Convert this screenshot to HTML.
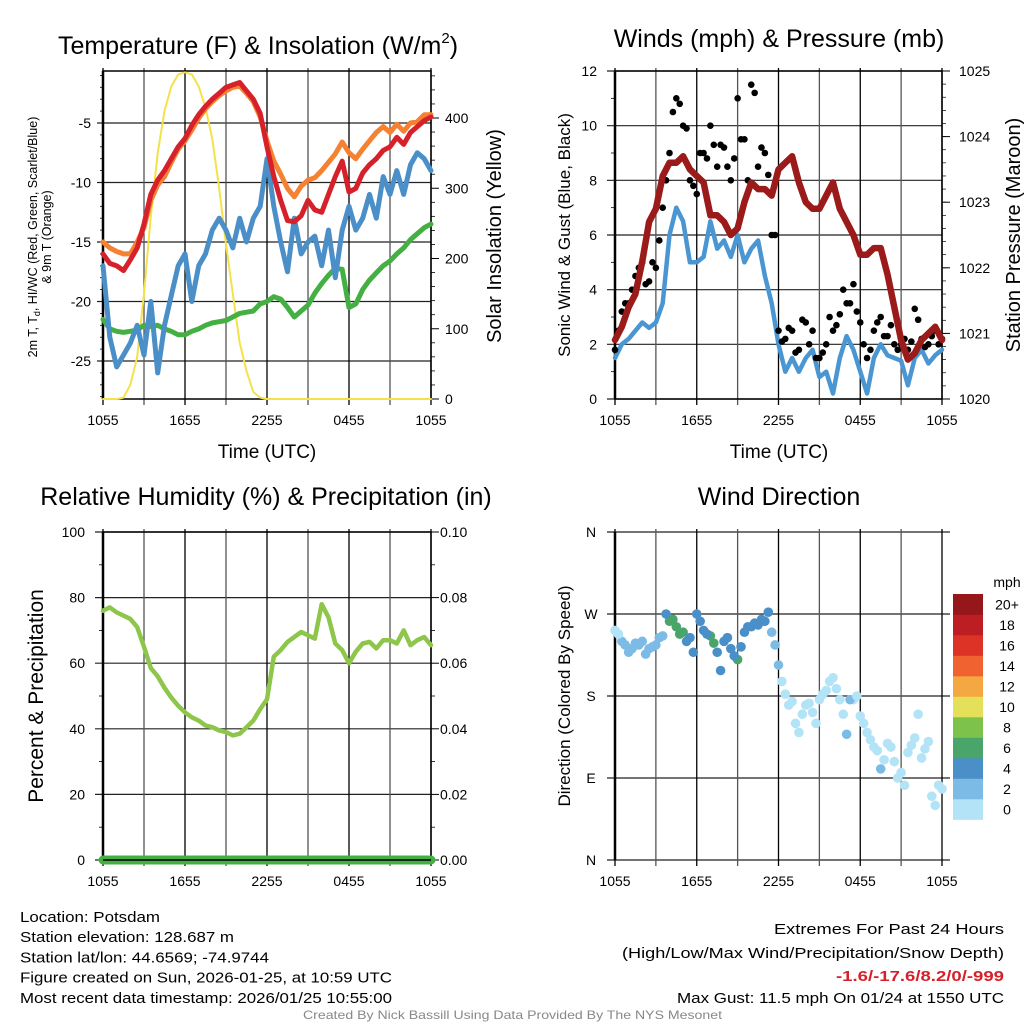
<!DOCTYPE html>
<html><head><meta charset="utf-8">
<style>
html,body{margin:0;padding:0;background:#fff;}
svg{display:block;font-family:"Liberation Sans",sans-serif;}
</style></head>
<body>
<svg id="c" width="1024" height="1024" viewBox="0 0 1024 1024" xmlns="http://www.w3.org/2000/svg"></svg>
<script>
// ---------- DATA ----------
const hours = []; for (let i = 0; i <= 48; i++) hours.push(i * 0.5);
const hoursB = []; for (let i = 0; i < 48; i++) hoursB.push(i * 0.5 + 0.25);
const timeTickLabels = ["1055","1655","2255","0455","1055"];
const tempTicks = [-5,-10,-15,-20,-25];
const solarTicks = [0,100,200,300,400];
const windTicks = [0,2,4,6,8,10,12];
const presTicks = [1020,1021,1022,1023,1024,1025];
const rhTicks = [0,20,40,60,80,100];
const precipTicks = ["0.00","0.02","0.04","0.06","0.08","0.10"];
const dirTickLabels = ["N","E","S","W","N"];
const colorbarLabels = ["0","2","4","6","8","10","12","14","16","18","20+"];
const colorbarColors = ["#b3e3f7","#7cbbe6","#4a8fc7","#4aa56a","#7dc24a","#e5e05a","#f5a742","#f06230","#dd3327","#bd1e24","#961719"];

const temp2m = [-16,-16.8,-17,-17.4,-16.5,-15.5,-13.5,-11,-9.8,-9,-8,-7,-6.3,-5.2,-4.3,-3.6,-3,-2.5,-2,-1.8,-1.6,-2.3,-3,-4.2,-7,-9.5,-11.5,-13.2,-13.3,-12.8,-11.5,-12.3,-12.5,-11,-9.5,-8.2,-10.8,-10.5,-9.2,-8.5,-8,-7.3,-7,-6.2,-6.8,-5.8,-5.3,-4.8,-4.5];
const temp9m = [-15,-15.5,-15.8,-16,-16,-15,-13.8,-11.5,-10.2,-9.5,-8.3,-7.2,-6.5,-5.6,-4.6,-3.8,-3.2,-2.7,-2.3,-2,-1.9,-2.5,-3.2,-4.5,-6.5,-8.2,-9.3,-10.5,-11.2,-10.3,-9.8,-9.6,-9,-8.3,-7.6,-6.6,-7.5,-8,-7.2,-6.5,-5.8,-5.3,-5.8,-5.1,-5.7,-5,-4.9,-4.3,-4.3];
const dewpoint = [-21.5,-22.3,-22.5,-22.6,-22.5,-22.4,-22,-22.1,-22,-22.3,-22.5,-22.8,-22.8,-22.5,-22.3,-22,-21.8,-21.7,-21.6,-21.3,-21,-20.9,-20.8,-20.2,-20,-19.6,-19.8,-20.5,-21.3,-20.8,-20.3,-19.3,-18.5,-17.8,-17.2,-17.3,-20.5,-20.2,-19,-18.2,-17.6,-17,-16.6,-16,-15.5,-14.8,-14.3,-13.8,-13.5];
const windChill = [-17,-23,-25.5,-24.5,-23.5,-22,-24.5,-20,-26,-22,-19.5,-17,-16,-20,-17,-16,-14,-13,-14,-15.5,-13,-15,-13,-12,-8,-12,-15,-17.5,-13,-16,-15,-14.5,-17,-14,-18,-14,-12,-14,-13,-11,-13,-9.5,-11,-9,-11,-8.5,-7.5,-8,-9];
const solar = [0,0,0,2,20,60,150,260,350,410,445,462,465,462,445,415,370,300,220,150,80,40,10,2,0,0,0,0,0,0,0,0,0,0,0,0,0,0,0,0,0,0,0,0,0,0,0,0,0];

const windSpeed = [1.5,2,2.2,2.5,2.8,2.6,2.8,3.5,6,7,6.5,5,5,5.2,6.5,5.5,5.8,5.2,6,5,5.5,5.8,4.5,3.5,2,1,1.5,1,1.5,1.8,0.8,1,0.2,1.5,2.3,1.8,1,0.2,1.5,2,1.6,1.5,1.4,0.5,1.5,1.8,1.3,1.6,1.8];
const gustA = [1.8,3.2,3.5,4.5,5,4.3,4.8,7,9,11,10,8,7.5,9,10,8.5,9.2,8,11,9.5,11.5,8.5,9,6,2.5,2.2,2.5,1.8,2.8,2.5,1.5,2,2.5,3.1,3.5,4.2,2.8,1.5,2.5,3,2.3,2,2,1.8,3.3,2.2,2,2.5,2.2];
const gustB = [2.5,3.5,4,4.8,4.2,5,5.8,8,10.5,10.8,9.9,7.8,9,8.8,9.3,9.3,8.5,8.8,9.5,8,11.2,9.2,8.2,6,2.1,2.6,1.7,2.9,2,1.5,1.7,3,2.7,4,3.5,3.2,2,1.8,2.8,2.3,2.7,1.8,2.2,2.1,2.9,1.9,2.3,2.0];
const pressure = [1020.9,1021.1,1021.4,1021.6,1022.1,1022.7,1022.9,1023.4,1023.6,1023.6,1023.7,1023.5,1023.4,1023.3,1022.8,1022.8,1022.7,1022.5,1022.6,1023.0,1023.3,1023.2,1023.2,1023.1,1023.5,1023.6,1023.7,1023.3,1023.0,1022.9,1022.9,1023.1,1023.3,1022.9,1022.7,1022.5,1022.2,1022.2,1022.3,1022.3,1021.9,1021.4,1020.9,1020.6,1020.7,1020.9,1021.0,1021.1,1020.9];

const relHum = [76,77,75.5,74.5,73.5,71,65,58.5,56,52.5,49.5,47,45,43.5,42.5,41,40.5,39.5,39,38,38.5,40.5,42.5,46,49,62,64,66.5,68,69.5,68.5,67.5,78,74,66,64,60,63.5,66,66.5,64.5,67,67,66,70,65.5,67,68,65.5];
const precip = [0,0,0,0,0,0,0,0,0,0,0,0,0,0,0,0,0,0,0,0,0,0,0,0,0,0,0,0,0,0,0,0,0,0,0,0,0,0,0,0,0,0,0,0,0,0,0,0,0];

const dirA = [252,240,228,238,240,232,236,246,262,256,250,244,270,252,246,228,240,232,220,250,256,258,262,250,214,182,174,140,170,162,176,186,200,176,138,176,158,140,124,100,128,108,96,118,134,112,130,60,78];
const dirB = [248,236,232,236,226,234,244,270,264,248,240,228,262,248,238,208,244,224,234,256,260,264,272,236,196,170,150,160,172,150,182,196,188,160,176,180,150,132,120,110,124,90,82,126,160,122,70,82];

// ---------- HELPERS ----------
const NS = "http://www.w3.org/2000/svg";
const svg = document.getElementById('c');
function mk(tag, attrs, parent, txt) {
  const e = document.createElementNS(NS, tag);
  for (const k in attrs) e.setAttribute(k, attrs[k]);
  if (txt !== undefined) e.textContent = txt;
  (parent || svg).appendChild(e);
  return e;
}
function lin(d0, d1, r0, r1) { return v => r0 + (v - d0) / (d1 - d0) * (r1 - r0); }

function panel(name) {
  const g = mk('g', {});
  
  
  return g;
}
function vgrid(g, x0, x1, y0, y1, yl) {
  const xs = lin(0, 24, x0, x1);
  for (let h = 0; h <= 24; h += 3) {
    const l = mk('line', {x1: xs(h), x2: xs(h), y1: y0 - 3, y2: y1 + 6, stroke: (h % 6 === 0) ? '#000' : '#555', 'stroke-width': 1.3}, g);
    
    
  }
  timeTickLabels.forEach((t, i) => {
    const tx = mk('text', {x: xs(i * 6), y: yl, 'font-size': 14, 'text-anchor': 'middle'}, g, t);
    
    
  });
}
function polyline(g, xsArr, ysArr, xf, yf, color, w, name) {
  let d = '';
  xsArr.forEach((h, i) => { d += (i ? 'L' : 'M') + xf(h).toFixed(1) + ',' + yf(ysArr[i]).toFixed(1); });
  const p = mk('path', {d: d, fill: 'none', stroke: color, 'stroke-width': w, 'stroke-linejoin': 'round', 'stroke-linecap': 'round'}, g);
  
  
  return p;
}
function frame(g, x0, x1, y0, y1) {
  const r = mk('rect', {x: x0, y: y0, width: x1 - x0, height: y1 - y0, fill: 'none', stroke: '#000', 'stroke-width': 1.5}, g);
  
  
  mk('line', {x1: x0, x2: x0, y1: y0, y2: y1, stroke: '#000', 'stroke-width': 2.5}, g);
}
function title(txt, x, y, size, name) {
  const t = mk('text', {x: x, y: y, 'font-size': size, 'text-anchor': 'middle'}, svg, txt);
  
  
  return t;
}
function vtitle(txt, x, y, size, name) {
  const t = mk('text', {x: 0, y: 0, 'font-size': size, 'text-anchor': 'middle', transform: `translate(${x},${y}) rotate(-90)`}, svg, txt);
  
  
  return t;
}

// ---------- PANEL 1: TEMPERATURE ----------
(function () {
  const X0 = 103, X1 = 431, Y0 = 71, Y1 = 399;
  const g = panel('temperature-panel');
  const xs = lin(0, 24, X0, X1);
  const yt = lin(-5, -25, 123, 361);
  const ys = lin(0, 400, 399, 118);
  tempTicks.forEach(v => {
    mk('line', {x1: X0 - 6, x2: X1, y1: yt(v), y2: yt(v), stroke: '#222', 'stroke-width': 1.2}, g);
    const t = mk('text', {x: X0 - 12, y: yt(v) + 5, 'font-size': 14, 'text-anchor': 'end'}, g, String(v));
    
    
  });
  for (let v = -1; v >= -28; v -= 1) { if (v % 5) mk('line', {x1: X0 - 3, x2: X0, y1: yt(v), y2: yt(v), stroke: '#000', 'stroke-width': 0.8}, g); }
  solarTicks.forEach(v => {
    mk('line', {x1: X1, x2: X1 + 8, y1: ys(v), y2: ys(v), stroke: '#000', 'stroke-width': 1}, g);
    const t = mk('text', {x: X1 + 14, y: ys(v) + 5, 'font-size': 14}, g, String(v));
    
    
  });
  for (let v = 20; v <= 460; v += 20) { if (v % 100) mk('line', {x1: X1, x2: X1 + 4, y1: ys(v), y2: ys(v), stroke: '#000', 'stroke-width': 0.8}, g); }
  vgrid(g, X0, X1, Y0, Y1, 425);
  frame(g, X0, X1, Y0, Y1);
  polyline(g, hours, solar, xs, ys, '#f5e14a', 2, 'solar-insolation-line');
  polyline(g, hours, dewpoint, xs, yt, '#44b043', 5, 'dewpoint-line');
  polyline(g, hours, windChill, xs, yt, '#4a8fc7', 5, 'wind-chill-line');
  polyline(g, hours, temp9m, xs, yt, '#f58232', 5, 'temp-9m-line');
  polyline(g, hours, temp2m, xs, yt, '#d7212a', 5, 'temp-2m-line');
})();
(function () {
  const t = title('Temperature (F) & Insolation (W/m', 258, 54, 25, 'temperature-title');
  mk('tspan', {'font-size': 15, dy: -11}, t, '2');
  mk('tspan', {dy: 11}, t, ')');
})();
title('Time (UTC)', 267, 458, 19, 'x-axis-title');
(function () {
  const t = mk('text', {x: 0, y: 0, 'font-size': 12.5, 'text-anchor': 'middle', transform: 'translate(37,237) rotate(-90)'}, svg, '2m T, T');
  
  
  mk('tspan', {'font-size': 9, dy: 3}, t, 'd');
  mk('tspan', {dy: -3}, t, ', HI/WC (Red, Green, Scarlet/Blue)');
  const t2 = mk('text', {x: 0, y: 0, 'font-size': 12.5, 'text-anchor': 'middle', transform: 'translate(51,237) rotate(-90)'}, svg, '& 9m T (Orange)');
  
  
})();
vtitle('Solar Insolation (Yellow)', 501, 236, 20, 'solar-y-axis-title');

// ---------- PANEL 2: WINDS ----------
(function () {
  const X0 = 615, X1 = 942, Y0 = 71, Y1 = 399;
  const g = panel('winds-panel');
  const xs = lin(0, 24, X0, X1);
  const yw = lin(0, 12, Y1, Y0);
  const yp = lin(1020, 1025, Y1, Y0);
  windTicks.forEach(v => {
    mk('line', {x1: X0 - 8, x2: X1, y1: yw(v), y2: yw(v), stroke: '#222', 'stroke-width': 1.2}, g);
    const t = mk('text', {x: X0 - 18, y: yw(v) + 5, 'font-size': 14, 'text-anchor': 'end'}, g, String(v));
    
    
  });
  for (let v = 1; v < 12; v += 2) mk('line', {x1: X0 - 4, x2: X0, y1: yw(v), y2: yw(v), stroke: '#000', 'stroke-width': 0.8}, g);
  presTicks.forEach(v => {
    mk('line', {x1: X1, x2: X1 + 8, y1: yp(v), y2: yp(v), stroke: '#000', 'stroke-width': 1}, g);
    const t = mk('text', {x: X1 + 17, y: yp(v) + 5, 'font-size': 14}, g, String(v));
    
    
  });
  for (let v = 1020.2; v < 1025; v += 0.2) mk('line', {x1: X1, x2: X1 + 4, y1: yp(v), y2: yp(v), stroke: '#000', 'stroke-width': 0.7}, g);
  vgrid(g, X0, X1, Y0, Y1, 425);
  frame(g, X0, X1, Y0, Y1);
  polyline(g, hours, windSpeed, xs, yw, '#4a96d2', 4.5, 'sonic-wind-line');
  [[hours, gustA], [hoursB, gustB]].forEach(([hh, gv]) => {
    hh.forEach((h, i) => {
      const c = mk('circle', {cx: xs(h), cy: yw(gv[i]), r: 3.3, fill: '#000'}, g);
      
      
    });
  });
  polyline(g, hours, pressure, xs, yp, '#9b1a1a', 6.5, 'pressure-line');
})();
title('Winds (mph) & Pressure (mb)', 779, 47, 25, 'winds-title');
title('Time (UTC)', 779, 458, 19, 'x-axis-title-2');
vtitle('Sonic Wind & Gust (Blue, Black)', 570, 235, 17, 'wind-y-axis-title');
vtitle('Station Pressure (Maroon)', 1020, 235, 20, 'pressure-y-axis-title');

// ---------- PANEL 3: RH ----------
(function () {
  const X0 = 103, X1 = 431, Y0 = 532, Y1 = 860;
  const g = panel('humidity-panel');
  const xs = lin(0, 24, X0, X1);
  const yr = lin(0, 100, Y1, Y0);
  const ypc = lin(0, 0.1, Y1, Y0);
  rhTicks.forEach((v, i) => {
    mk('line', {x1: X0 - 8, x2: X1, y1: yr(v), y2: yr(v), stroke: '#222', 'stroke-width': 1.2}, g);
    const t = mk('text', {x: X0 - 18, y: yr(v) + 5, 'font-size': 14, 'text-anchor': 'end'}, g, String(v));
    
    
    mk('line', {x1: X1, x2: X1 + 8, y1: yr(v), y2: yr(v), stroke: '#000', 'stroke-width': 1}, g);
    const t2 = mk('text', {x: X1 + 9, y: yr(v) + 5, 'font-size': 14}, g, precipTicks[i]);
    
    
  });
  for (let v = 10; v < 100; v += 20) {
    mk('line', {x1: X0 - 4, x2: X0, y1: yr(v), y2: yr(v), stroke: '#000', 'stroke-width': 0.8}, g);
    mk('line', {x1: X1, x2: X1 + 4, y1: yr(v), y2: yr(v), stroke: '#000', 'stroke-width': 0.8}, g);
  }
  vgrid(g, X0, X1, Y0, Y1, 886);
  frame(g, X0, X1, Y0, Y1);
  polyline(g, hours, relHum, xs, yr, '#8dc64a', 4.5, 'relative-humidity-line');
  polyline(g, hours, precip, xs, ypc, '#44b043', 9, 'precipitation-line');
  mk('line', {x1: X0, x2: X1, y1: Y1, y2: Y1, stroke: '#000', 'stroke-width': 1.5}, g);
})();
title('Relative Humidity (%) & Precipitation (in)', 266, 505, 25, 'humidity-title');
vtitle('Percent & Precipitation', 43, 696, 21, 'humidity-y-axis-title');

// ---------- PANEL 4: DIRECTION ----------
(function () {
  const X0 = 615, X1 = 942, Y0 = 532, Y1 = 860;
  const g = panel('wind-direction-panel');
  const xs = lin(0, 24, X0, X1);
  const yd = lin(0, 360, Y1, Y0);
  dirTickLabels.forEach((lab, i) => {
    const v = i * 90;
    mk('line', {x1: X0 - 8, x2: X1 + 8, y1: yd(v), y2: yd(v), stroke: '#222', 'stroke-width': 1.2}, g);
    const t = mk('text', {x: X0 - 24, y: yd(v) + 5, 'font-size': 14, 'text-anchor': 'middle'}, g, lab);
    
    
  });
  vgrid(g, X0, X1, Y0, Y1, 886);
  mk('line', {x1: X0, x2: X0, y1: Y0, y2: Y1, stroke: '#000', 'stroke-width': 2.5}, g);
  const col = s => colorbarColors[Math.min(10, Math.max(0, Math.floor(s / 2)))];
  hours.forEach((h, i) => {
    const c = mk('circle', {cx: xs(h), cy: yd(dirA[i]), r: 4.8, fill: col(windSpeed[i])}, g);
    
    
  });
  hoursB.forEach((h, i) => {
    const c = mk('circle', {cx: xs(h), cy: yd(dirB[i]), r: 4.8, fill: col((windSpeed[i] + windSpeed[i + 1]) / 2)}, g);
    
    
  });
  const cb = mk('g', {}, svg);
  
  
  const top = 594, bh = 20.5;
  colorbarColors.forEach((c, i) => {
    const y = top + (10 - i) * bh;
    mk('rect', {x: 953, y: y, width: 30, height: bh + 0.3, fill: c}, cb);
    const t = mk('text', {x: 1007, y: y + bh / 2 + 5, 'font-size': 14, 'text-anchor': 'middle'}, cb, colorbarLabels[i]);
    
    
  });
  const u = mk('text', {x: 1007, y: 587, 'font-size': 14, 'text-anchor': 'middle'}, cb, 'mph');
  
  
})();
title('Wind Direction', 779, 505, 25, 'direction-title');
vtitle('Direction (Colored By Speed)', 570, 696, 17, 'direction-y-axis-title');

// ---------- FOOTER ----------
const leftLines = [["Location: Potsdam",140],["Station elevation: 128.687 m",214],["Station lat/lon: 44.6569; -74.9744",249],["Figure created on Sun, 2026-01-25, at 10:59 UTC",372],["Most recent data timestamp: 2026/01/25 10:55:00",372]];
leftLines.forEach((l, i) => {
  const t = mk('text', {x: 20, y: 922 + i * 20.2, 'font-size': 15, textLength: l[1], lengthAdjust: 'spacingAndGlyphs'}, svg, l[0]);
  
  
});
const rightLines = [["Extremes For Past 24 Hours",230,934,'#000','normal'],["(High/Low/Max Wind/Precipitation/Snow Depth)",382,958,'#000','normal'],["-1.6/-17.6/8.2/0/-999",168,981,'#d7212a','bold'],["Max Gust: 11.5 mph On 01/24 at 1550 UTC",327,1003,'#000','normal']];
rightLines.forEach(l => {
  const t = mk('text', {x: 1004 - l[1], y: l[2], 'font-size': 15, fill: l[3], 'font-weight': l[4], textLength: l[1], lengthAdjust: 'spacingAndGlyphs'}, svg, l[0]);
  
  
});
(function () {
  const t = mk('text', {x: 303, y: 1019, 'font-size': 12, fill: '#888', textLength: 419, lengthAdjust: 'spacingAndGlyphs'}, svg, 'Created By Nick Bassill Using Data Provided By The NYS Mesonet');
  
  
})();
</script>
</body></html>
